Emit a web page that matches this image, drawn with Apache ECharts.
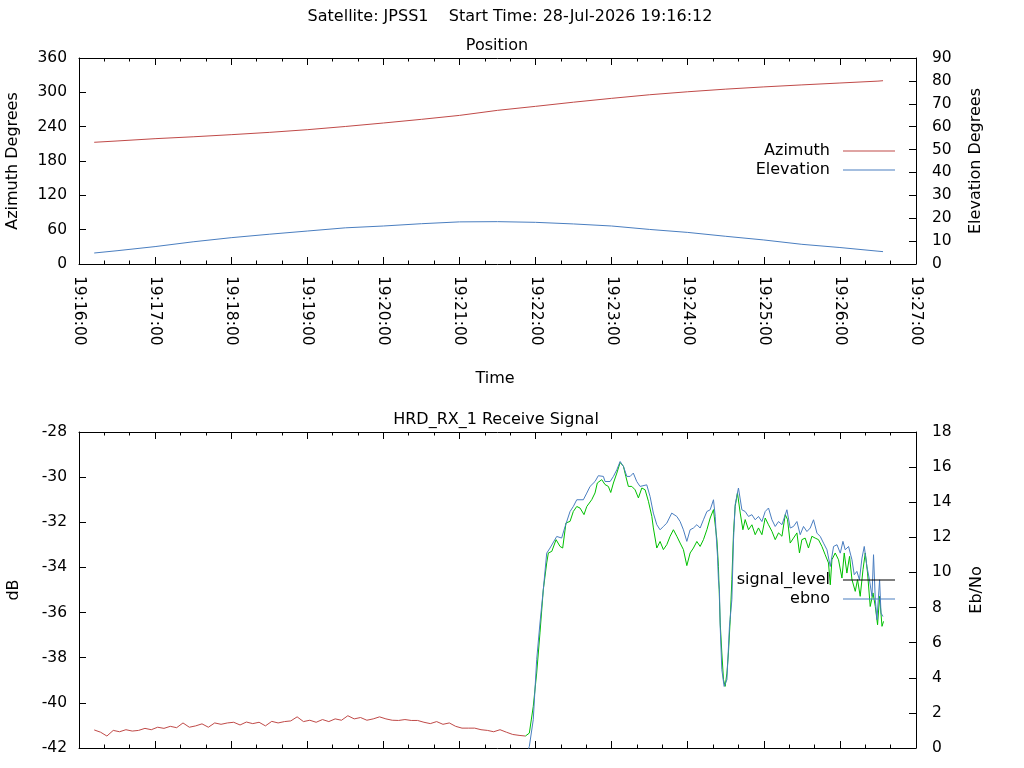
<!DOCTYPE html>
<html>
<head>
<meta charset="utf-8">
<script src="https://cdn.jsdelivr.net/npm/echarts@6/dist/echarts.min.js"></script>
<style>
  html, body { margin: 0; padding: 0; background: #fff; }
  #chart { width: 1024px; height: 768px; }
</style>
</head>
<body>
<div id="chart"></div>
<script>
// seconds after 19:16:00
var posTime = [12, 30, 60, 90, 120, 150, 180, 210, 240, 270, 300, 330, 360, 390, 420, 450, 480, 510, 540, 570, 600, 630, 634];
var azimuth = [212.7, 215, 219, 222.3, 226, 230, 234.7, 240.3, 246.4, 252.8, 259.7, 268.5, 275.5, 282.8, 289.5, 295.8, 301.0, 305.6, 309.5, 313.0, 316.3, 319.6, 320.3];
var elevation = [4.8, 5.8, 7.6, 9.7, 11.5, 13.0, 14.4, 15.8, 16.6, 17.6, 18.4, 18.5, 18.2, 17.5, 16.6, 15.1, 13.8, 12.1, 10.5, 8.6, 7.2, 5.6, 5.4];

// signal level before lock (red)
var sigLowTime = [12,17,22,27,32,37,42,47,52,57,62,67,72,77,82,87,92,97,102,107,112,117,122,127,132,137,142,147,152,157,162,167,172,177,182,187,192,197,202,207,212,217,222,227,232,237,242,247,252,257,262,267,272,277,282,287,292,297,302,307,312,317,322,327,332,337,342,347,352];
var sigLow = [-41.20,-41.30,-41.47,-41.22,-41.28,-41.19,-41.25,-41.22,-41.13,-41.19,
  -41.08,-41.13,-41.04,-41.10,-40.89,-41.08,-41.02,-40.93,-41.08,-40.89,
  -40.95,-40.89,-40.86,-40.98,-40.85,-40.92,-40.86,-41.02,-40.82,-40.89,
  -40.83,-40.80,-40.62,-40.83,-40.77,-40.86,-40.74,-40.83,-40.71,-40.77,
  -40.57,-40.71,-40.65,-40.77,-40.71,-40.62,-40.71,-40.77,-40.78,-40.74,
  -40.78,-40.78,-40.86,-40.92,-40.83,-40.95,-40.89,-41.04,-41.12,-41.12,
  -41.12,-41.19,-41.22,-41.28,-41.19,-41.30,-41.40,-41.44,-41.47];

// signal level after lock (green)
var sigHighTime = [352,355.1,358.2,360.9,363.5,366.1,368.8,370.1,372.8,376.2,379.3,381.4,384.0,387.2,389.8,392.5,395.1,398.2,400.4,404.3,
  406.9,408.7,412.2,414.8,417.4,419.3,421.4,424.1,426.7,429.3,431.2,433.2,435.9,438.5,441.1,443.8,446.4,449.0,451.7,452.9,
  455.6,458.2,460.8,463.5,466.1,468.7,471.4,474.0,476.6,479.3,481.9,484.5,487.2,489.8,492.4,495.1,497.7,500.3,503.0,504.2,
  505.6,506.9,508.2,509.5,510.9,512.1,513.5,514.8,516.1,517.4,519.2,521.4,523.5,525.3,527.9,530.6,533.2,535.8,538.5,541.1,
  543.7,546.4,549.0,551.6,554.3,556.9,558.7,560.8,563.4,566.1,568.1,570.0,572.6,575.2,577.9,580.5,583.1,585.8,588.4,591.0,
  592.4,593.7,596.3,598.9,601.6,603.4,605.5,607.6,609.5,612.1,613.9,616.0,618.2,620.0,621.8,623.9,626.1,627.9,629.7,631.3,
  633.2,634.4];
var sigHigh = [-41.47,-41.34,-40.16,-38.68,-36.90,-34.99,-33.80,-33.36,-33.29,-32.77,-33.07,-33.14,-32.03,-31.96,-31.52,-31.30,-31.37,-31.66,-31.30,-31.00,
  -30.70,-30.26,-30.11,-30.33,-30.41,-30.68,-30.26,-29.82,-29.35,-29.52,-29.97,-30.41,-30.41,-30.56,-30.92,-30.48,-30.56,-31.07,-31.74,-32.25,
  -33.14,-32.85,-33.21,-32.99,-32.62,-32.33,-32.62,-32.92,-33.21,-33.92,-33.36,-33.14,-32.85,-33.07,-32.77,-32.33,-31.81,-31.44,-32.77,-33.95,
  -36.46,-37.79,-38.97,-39.27,-38.68,-37.79,-36.32,-34.54,-32.47,-31.30,-30.70,-31.59,-32.33,-31.88,-32.33,-32.11,-32.55,-32.25,-32.55,-31.81,
  -32.11,-32.40,-32.77,-32.47,-32.62,-31.66,-31.88,-32.92,-32.70,-32.47,-33.36,-32.77,-32.70,-33.14,-32.62,-32.70,-32.77,-33.07,-33.44,-33.80,
  -34.77,-33.66,-33.36,-33.66,-34.47,-33.36,-34.25,-33.51,-34.54,-35.06,-34.54,-35.28,-34.10,-33.36,-34.25,-35.73,-35.13,-35.73,-36.54,-35.28,
  -36.61,-36.39];

var ebnoTime = [353,355.1,358.2,360.9,363.5,366.1,368.8,371.4,376.7,380.6,383.3,387.2,389.8,392.5,397.7,400.4,403.0,406.9,409.5,413.5,
  414.8,418.8,421.4,424.1,426.7,429.3,432.0,434.6,437.1,439.8,442.4,447.7,450.3,452.9,455.6,458.2,460.8,463.5,467.4,471.4,
  474.0,476.6,479.3,481.9,484.5,487.2,489.8,492.4,495.1,497.7,500.3,501.7,502.5,503.5,504.2,505.0,505.6,506.9,508.7,510.9,
  512.9,514.8,516.1,517.4,520.0,522.7,525.3,527.9,530.6,533.2,535.8,538.5,541.1,543.7,546.4,549.0,551.6,554.3,558.2,560.8,
  563.4,566.1,568.7,571.3,574.0,576.6,579.2,581.9,584.5,587.1,589.8,592.4,595.0,597.7,600.3,602.4,604.2,606.8,609.5,611.3,
  613.4,615.4,617.4,619.2,621.3,623.3,625.3,626.5,627.9,629.2,631.3,632.4,633.9];
var ebno = [-0.3,0.09,1.61,5.03,7.12,9.01,11.10,11.39,12.05,11.96,12.62,13.47,13.76,14.14,14.14,14.52,14.90,15.18,15.51,15.47,
  15.18,15.18,15.47,15.85,16.32,16.04,15.47,15.47,15.66,15.18,14.90,14.99,14.33,13.38,12.72,12.43,12.62,12.81,13.38,13.19,
  12.90,12.43,11.77,12.43,12.53,12.72,12.53,13.00,13.47,13.57,14.14,13.19,12.05,10.91,9.58,9.01,6.92,4.46,3.51,3.89,
  6.92,8.45,11.86,13.86,14.81,13.57,13.47,13.19,13.29,13.00,13.19,12.90,13.47,13.67,13.00,12.62,12.90,12.72,13.57,12.53,
  12.62,12.90,12.15,12.62,12.33,12.53,13.00,12.24,12.05,11.67,11.29,10.34,11.48,11.58,11.10,11.77,11.29,11.48,10.72,9.87,
  10.06,9.58,10.82,11.48,10.34,9.58,8.63,11.01,8.45,7.31,9.58,7.69,7.49];

var FONT = 'DejaVu Sans';
var RED = '#c04a48', BLUE = '#4a7ec0', GREEN = '#00c000';

function pairs(xs, ys) {
    return xs.map(function (x, i) { return [x, ys[i]]; });
}
function timeLabel(v) {
    var s = 19 * 3600 + 16 * 60 + v;
    var h = Math.floor(s / 3600), m = Math.floor(s % 3600 / 60), sec = s % 60;
    function p(n) { return (n < 10 ? '0' : '') + n; }
    return p(h) + ':' + p(m) + ':' + p(sec);
}

function xAxisFor(grid, pos, labels) {
    return {
        type: 'value', gridIndex: grid, position: pos,
        min: 0, max: 660, interval: 60,
        axisLine: { onZero: false, lineStyle: { color: '#000', width: 1 } },
        axisTick: { inside: true, length: 7, lineStyle: { color: '#000' } },
        minorTick: { show: true, splitNumber: 3, length: 3.5, lineStyle: { color: '#000' } },
        splitLine: { show: false },
        axisLabel: {
            show: labels, rotate: -90, margin: 12, formatter: timeLabel,
            fontFamily: FONT, fontSize: 15.5, color: '#000'
        }
    };
}
function yAxisFor(grid, pos, min, max, step, margin) {
    return {
        type: 'value', gridIndex: grid, position: pos,
        min: min, max: max, interval: step,
        axisLine: { show: true, onZero: false, lineStyle: { color: '#000', width: 1 } },
        axisTick: { show: true, inside: true, length: 7, lineStyle: { color: '#000' } },
        splitLine: { show: false },
        axisLabel: { margin: margin, fontFamily: FONT, fontSize: 15.5, color: '#000' }
    };
}
function txt(x, y, s, rot) {
    return {
        type: 'text', x: x, y: y, rotation: rot || 0,
        style: { text: s, font: '16px "' + FONT + '"', fill: '#000', align: 'center', verticalAlign: 'middle' }
    };
}
// gnuplot style key: right aligned text, plain line sample on the right
function keyFor(top, items) {
    return {
        data: items,
        orient: 'vertical', right: 129, top: top, padding: 0,
        align: 'right', icon: 'rect', itemWidth: 52, itemHeight: 1.2, itemGap: 3,
        selectedMode: false,
        textStyle: { fontFamily: FONT, fontSize: 16, color: '#000', padding: [0, 8, 0, 0] }
    };
}

var chart = echarts.init(document.getElementById('chart'));
var option = {
    backgroundColor: '#fff',
    animation: false,
    textStyle: { fontFamily: FONT, color: '#000' },
    grid: [
        { left: 79, top: 58, width: 837, height: 206 },
        { left: 79, top: 432, width: 837, height: 316 }
    ],
    xAxis: [
        xAxisFor(0, 'bottom', true),
        xAxisFor(0, 'top', false),
        xAxisFor(1, 'bottom', false),
        xAxisFor(1, 'top', false)
    ],
    yAxis: [
        yAxisFor(0, 'left', 0, 360, 60, 12),
        yAxisFor(0, 'right', 0, 90, 10, 16),
        yAxisFor(1, 'left', -42, -28, 2, 12),
        yAxisFor(1, 'right', 0, 18, 2, 16)
    ],
    legend: [
        keyFor(143, [{ name: 'Azimuth' }, { name: 'Elevation' }]),
        keyFor(572, [
            { name: 'signal_level', itemStyle: { color: '#000' } },
            { name: 'ebno' }
        ])
    ],
    graphic: [
        txt(510, 17, 'Satellite: JPSS1    Start Time: 28-Jul-2026 19:16:12'),
        txt(497, 46, 'Position'),
        txt(495, 379, 'Time'),
        txt(496, 420, 'HRD_RX_1 Receive Signal'),
        txt(13, 161, 'Azimuth Degrees', Math.PI / 2),
        txt(976, 161, 'Elevation Degrees', Math.PI / 2),
        txt(14, 590, 'dB', Math.PI / 2),
        txt(977, 590, 'Eb/No', Math.PI / 2)
    ],
    series: [
        { name: 'Azimuth', type: 'line', xAxisIndex: 0, yAxisIndex: 0, symbol: 'none',
          color: RED, lineStyle: { width: 1, color: RED }, data: pairs(posTime, azimuth) },
        { name: 'Elevation', type: 'line', xAxisIndex: 0, yAxisIndex: 1, symbol: 'none',
          color: BLUE, lineStyle: { width: 1, color: BLUE }, data: pairs(posTime, elevation) },
        { name: 'signal_level', type: 'line', xAxisIndex: 2, yAxisIndex: 2, symbol: 'none',
          color: RED, lineStyle: { width: 1, color: RED }, data: pairs(sigLowTime, sigLow) },
        { name: 'signal_level', type: 'line', xAxisIndex: 2, yAxisIndex: 2, symbol: 'none',
          color: GREEN, lineStyle: { width: 1, color: GREEN }, data: pairs(sigHighTime, sigHigh) },
        { name: 'ebno', type: 'line', xAxisIndex: 2, yAxisIndex: 3, symbol: 'none', z: 3,
          color: BLUE, lineStyle: { width: 1, color: BLUE }, data: pairs(ebnoTime, ebno) }
    ]
};
chart.setOption(option);
</script>
</body>
</html>
